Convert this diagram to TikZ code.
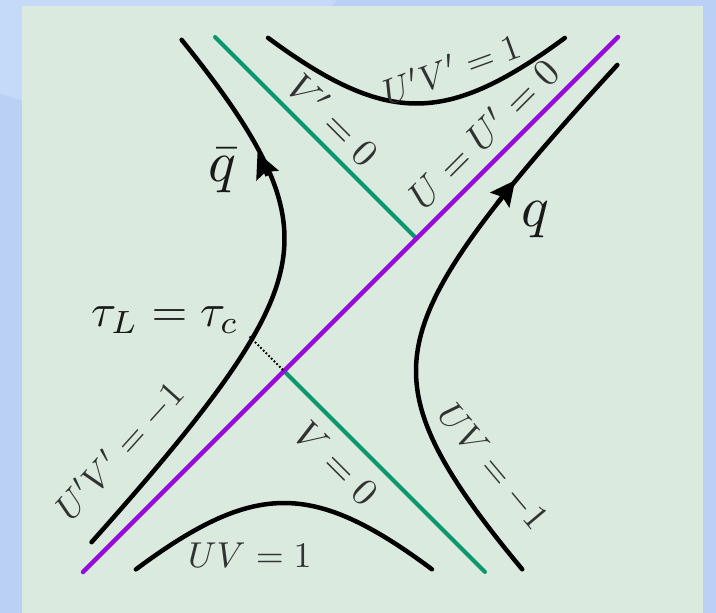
\documentclass[tikz,border=0pt]{standalone}
\usetikzlibrary{arrows.meta}
\definecolor{outerblue}{RGB}{186,209,245}
\definecolor{outerlight}{RGB}{196,218,248}
\definecolor{panelgreen}{RGB}{219,234,223}
\definecolor{violetline}{RGB}{150,10,220}
\definecolor{greenline}{RGB}{10,150,110}
\definecolor{labelgray}{RGB}{50,50,50}
\tikzset{
  curve/.style={line width=4.5pt, black, line cap=round},
  nullv/.style={line width=4.5pt, violetline, line cap=round},
  nullg/.style={line width=4pt, greenline, line cap=round},
  lab/.style={text=labelgray, scale=3.6, inner sep=0pt},
  rlab/.style={text=labelgray, scale=3.85, inner sep=0pt},
  taulab/.style={text=black!90, scale=4.6, inner sep=0pt},
  qlab/.style={text=black!90, scale=5.8, inner sep=0pt},
  flowarrow/.style={-{Stealth[length=25pt,width=24pt,inset=4pt]}, line width=4.5pt, black},
  dotline/.style={dotted, line width=1.8pt, black}
}
\begin{document}
\begin{tikzpicture}[x=1pt,y=-1pt]
\useasboundingbox (0,0) rectangle (716,613);
% background
\fill[outerblue] (0,0) rectangle (716,613);
\begin{scope}
\clip (0,0) rectangle (716,613);
\fill[outerlight] (100,-200) circle (310);
\end{scope}
\fill[panelgreen] (22,6) rectangle (703,613);

% key points
\coordinate (C1) at (284,371);
\coordinate (C2) at (416.5,238.5);
\coordinate (pbot) at (83,572);
\coordinate (ptop) at (618,37);
\coordinate (gtop) at (215,37);
\coordinate (gbot) at (485,572);
\coordinate (tc) at (249.6,336.6);

% null lines
\draw[nullg] (gtop) -- (C2);
\draw[nullg] (C1) -- (gbot);
\draw[nullv] (pbot) -- (ptop);

% dotted line
\draw[dotline] (tc) -- (C1);

% hyperbolas UV = +-1 (centre C1)
\draw[curve] plot[domain=-0.965:0.965, samples=60, smooth, variable=\s]
  ({284+132*sinh(\s)},{371+132*cosh(\s)});
\draw[curve] plot[domain=-1.196:1.578, samples=80, smooth, variable=\s]
  ({284+132*cosh(\s)},{371-132*sinh(\s)});
% hyperbolas U'V' = +-1 (centre C2)
\draw[curve] plot[domain=-0.95:0.95, samples=60, smooth, variable=\s]
  ({416.5+135*sinh(\s)},{238.5-135*cosh(\s)});
\draw[curve] plot[domain=-1.55:1.18, samples=80, smooth, variable=\s]
  ({416.5-132*cosh(\s)},{238.5-135*sinh(\s)});

% arrows
\coordinate (qbA) at (267.6,175.7);
\coordinate (qbB) at (257.5,152.5);
\draw[flowarrow] (qbA) -- (qbB);
\coordinate (qA) at (497.4,203.1);
\coordinate (qB) at (515.2,180.2);
\draw[flowarrow] (qA) -- (qB);

% labels
\node[lab, rotate=20] (l1) at (451,68) {$U'V'=1$};
\node[rlab, rotate=-45] (l2) at (334,119) {$V'=0$};
\node[rlab, rotate=45] (l3) at (483,133) {$U=U'=0$};
\node[rlab, rotate=-45] (l4) at (337,463) {$V=0$};
\node[lab, rotate=-50] (l5) at (493,467) {$UV=-1$};
\node[lab, rotate=48] (l6) at (120,451) {$U'V'=-1$};
\node[lab] (l7) at (250,555) {$UV=1$};
\node[taulab] (l8) at (165,320) {$\tau_L=\tau_c$};
\node[qlab] (l9) at (222,171) {$\bar q$};
\node[qlab] (l10) at (535,220) {$q$};
\end{tikzpicture}
\end{document}
